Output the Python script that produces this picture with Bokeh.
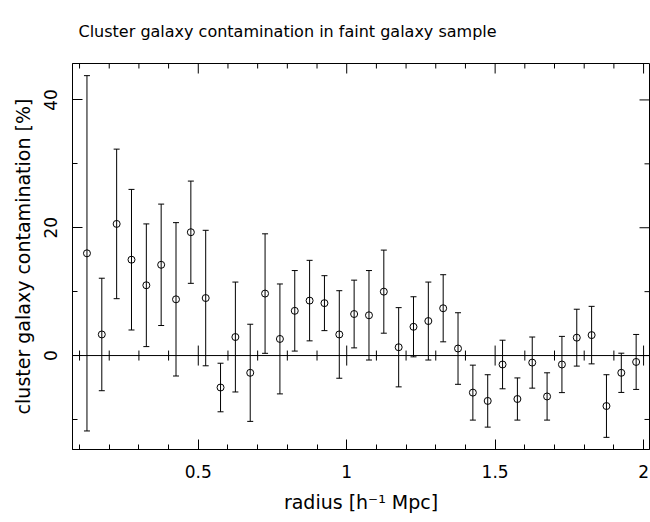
from bokeh.plotting import figure
from bokeh.models import (Range1d, LinearAxis, Whisker, ColumnDataSource, TeeHead,
                          Span, FixedTicker, Title)
from bokeh.embed import file_html
from bokeh.resources import INLINE
import math

# ---- data ----
radius = [0.125, 0.175, 0.225, 0.275, 0.325, 0.375, 0.425, 0.475, 0.525, 0.575,
          0.625, 0.675, 0.725, 0.775, 0.825, 0.875, 0.925, 0.975, 1.025, 1.075,
          1.125, 1.175, 1.225, 1.275, 1.325, 1.375, 1.425, 1.475, 1.525, 1.575,
          1.625, 1.675, 1.725, 1.775, 1.825, 1.875, 1.925, 1.975]
contamination = [16.0, 3.3, 20.6, 15.0, 11.0, 14.2, 8.8, 19.3, 9.0, -5.0,
                 2.9, -2.7, 9.7, 2.6, 7.0, 8.6, 8.2, 3.3, 6.5, 6.3,
                 10.0, 1.3, 4.5, 5.4, 7.4, 1.1, -5.8, -7.1, -1.4, -6.8,
                 -1.1, -6.4, -1.4, 2.8, 3.2, -7.9, -2.7, -1.0]
error = [27.8, 8.8, 11.7, 11.0, 9.6, 9.5, 12.0, 8.0, 10.6, 3.8,
         8.6, 7.6, 9.35, 8.6, 6.3, 6.3, 4.3, 6.85, 5.3, 7.0,
         6.5, 6.2, 4.7, 6.1, 5.25, 5.6, 4.3, 4.1, 3.8, 3.3,
         4.0, 3.7, 4.4, 4.45, 4.5, 4.9, 3.07, 4.3]

x_major = [0.5, 1.0, 1.5, 2.0]
x_minor = [0.1, 0.2, 0.3, 0.4, 0.6, 0.7, 0.8, 0.9, 1.1, 1.2, 1.3, 1.4,
           1.6, 1.7, 1.8, 1.9]
y_major = [0, 20, 40]
y_minor = [-10, 10, 30]

title_text = "Cluster galaxy contamination in faint galaxy sample"
x_label = "radius [h\u207b\u00b9 Mpc]"
y_label = "cluster galaxy contamination [%]"

FONT = "DejaVu Sans"
X_START, X_END = 0.0763, 2.020
Y_START, Y_END = -14.7, 45.7

src = ColumnDataSource(dict(
    r=radius, c=contamination,
    lo=[c - e for c, e in zip(contamination, error)],
    hi=[c + e for c, e in zip(contamination, error)],
))

p = figure(width=650, height=522, output_backend="svg", toolbar_location=None,
           x_range=Range1d(X_START, X_END), y_range=Range1d(Y_START, Y_END),
           min_border_left=72, min_border_right=1, min_border_top=63,
           min_border_bottom=73, x_axis_location=None, y_axis_location=None)
p.grid.visible = False
p.outline_line_color = "black"
p.outline_line_width = 1
p.background_fill_color = "white"
p.border_fill_color = "white"

xt = FixedTicker(ticks=x_major, minor_ticks=x_minor)
yt = FixedTicker(ticks=y_major, minor_ticks=y_minor)


def style_axis(ax):
    ax.axis_line_color = "black"
    ax.major_tick_line_color = "black"
    ax.minor_tick_line_color = "black"
    ax.major_tick_in = 10
    ax.major_tick_out = 0
    ax.minor_tick_in = 5
    ax.minor_tick_out = 0
    ax.major_label_text_font = FONT
    ax.axis_label_text_font = FONT
    ax.major_label_text_color = "black"
    ax.axis_label_text_color = "black"
    ax.axis_label_text_font_style = "normal"
    ax.major_label_text_font_size = "17px"
    ax.axis_label_text_font_size = "19px"


xb = LinearAxis(ticker=xt, axis_label=x_label)
style_axis(xb)
xb.major_label_standoff = 15
xb.axis_label_standoff = 10
p.add_layout(xb, "below")

yl = LinearAxis(ticker=yt, axis_label=y_label)
style_axis(yl)
yl.major_label_orientation = "vertical"
yl.major_label_standoff = 15
yl.axis_label_standoff = 8
p.add_layout(yl, "left")

# ticks on the top and right frame edges (half of each dash is clipped by the frame)
p.scatter(x=x_major, y=[Y_END] * len(x_major), marker="dash", size=20, angle=math.pi / 2,
          line_color="black", line_width=1)
p.scatter(x=x_minor, y=[Y_END] * len(x_minor), marker="dash", size=10, angle=math.pi / 2,
          line_color="black", line_width=1)
p.scatter(x=[X_END] * len(y_major), y=y_major, marker="dash", size=20,
          line_color="black", line_width=1)
p.scatter(x=[X_END] * len(y_minor), y=y_minor, marker="dash", size=10,
          line_color="black", line_width=1)

# zero line with ticks on both sides
p.add_layout(Span(location=0, dimension="width", line_color="black", line_width=1))
p.scatter(x=x_major, y=[0] * len(x_major), marker="dash", size=20, angle=math.pi / 2,
          line_color="black", line_width=1)
p.scatter(x=x_minor, y=[0] * len(x_minor), marker="dash", size=10, angle=math.pi / 2,
          line_color="black", line_width=1)

# error bars
w = Whisker(source=src, base="r", lower="lo", upper="hi", dimension="height",
            line_color="black", line_width=1,
            upper_head=TeeHead(size=6, line_color="black", line_width=1),
            lower_head=TeeHead(size=6, line_color="black", line_width=1))
p.add_layout(w)

p.scatter("r", "c", source=src, marker="circle", size=7, fill_color=None,
          line_color="black", line_width=1)

t = Title(text=title_text, align="left", offset=6, standoff=42,
          text_font=FONT, text_font_size="16px", text_font_style="normal",
          text_color="black", vertical_align="top")
p.add_layout(t, "above")

open("out.html", "w").write(file_html(p, INLINE))
